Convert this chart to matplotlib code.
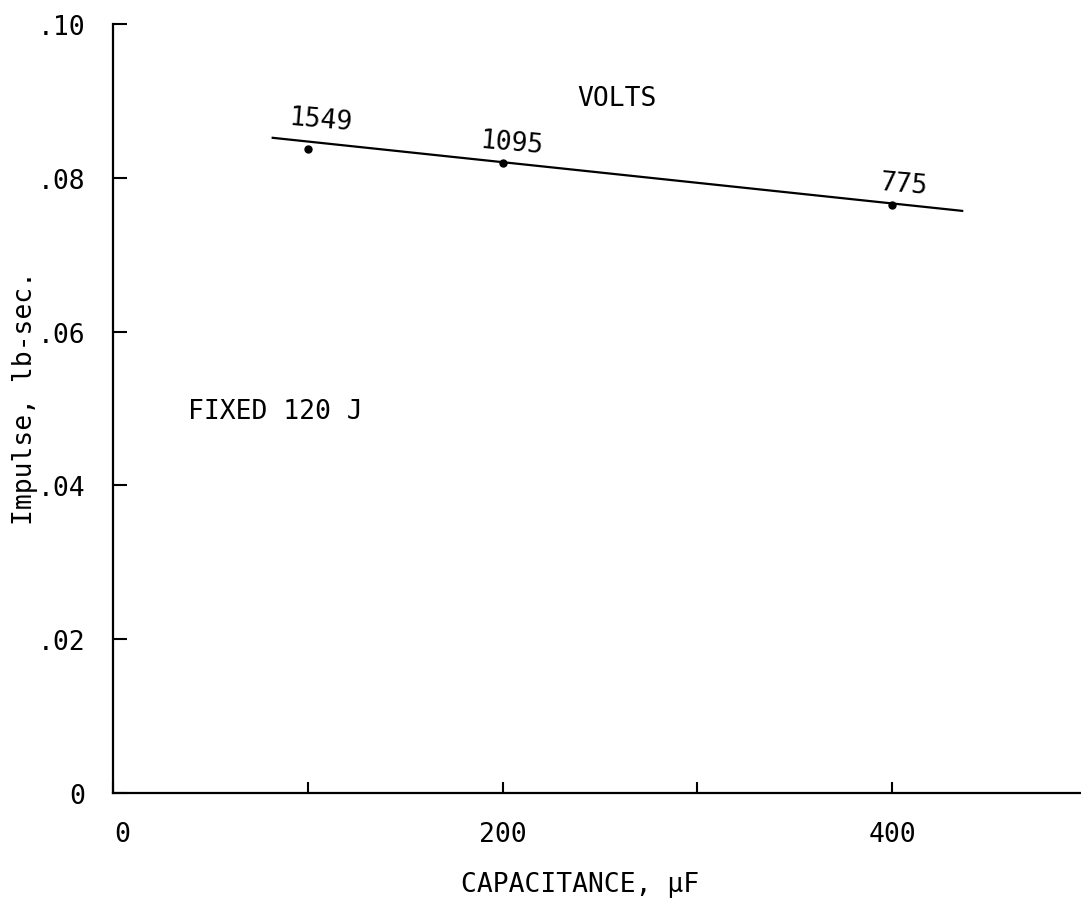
import matplotlib
matplotlib.use('Agg')
import matplotlib.pyplot as plt
import matplotlib.transforms as mtransforms

# data (fixed 120 J)
capacitance = [100, 200, 400]
impulse = [0.0838, 0.0819, 0.0764]
volts = ['1549', '1095', '775']

# hand-drawn fit line endpoints
fit_x = [82, 436]
fit_y = [0.0852, 0.0757]

x_ticks = [0, 100, 200, 300, 400]
x_tick_labels = ['0', '', '200', '', '400']
y_ticks = [0, 0.02, 0.04, 0.06, 0.08, 0.10]
y_tick_labels = ['0', '.02', '.04', '.06', '.08', '.10']

plt.rcParams['font.family'] = ['DejaVu Sans Mono']
fs = 19

fig = plt.figure(figsize=(10.81, 9.03), dpi=100)
ax = fig.add_axes([113 / 1081, 109 / 903, 1 - 113 / 1081, (794 - 25) / 903])

ax.plot(fit_x, fit_y, color='black', lw=1.6)
ax.plot(capacitance, impulse, 'o', color='black', markersize=5)

label_pos = [(107, 0.0876), (205, 0.0846), (406, 0.0792)]
for (lx, ly), v in zip(label_pos, volts):
    ax.text(lx, ly, v, fontsize=fs, ha='center', va='center', rotation=-5)

ax.text(259, 0.0904, 'VOLTS', fontsize=fs, ha='center', va='center')
ax.text(38.5, 0.0497, 'FIXED 120 J', fontsize=fs, ha='left', va='center')

ax.set_xlim(0, 497)
ax.set_ylim(0, 0.10)
ax.set_xticks(x_ticks)
ax.set_xticklabels(x_tick_labels, fontsize=fs)
ax.set_yticks(y_ticks)
ax.set_yticklabels(y_tick_labels, fontsize=fs)
ax.tick_params(direction='in', width=1.5)
ax.tick_params(axis='x', length=8, pad=20)
ax.tick_params(axis='y', length=10, pad=20)

# the "0" under the origin sits a little to the right in the original
lbl0 = ax.get_xticklabels()[0]
lbl0.set_transform(lbl0.get_transform() +
                   mtransforms.ScaledTranslation(0.09, 0, fig.dpi_scale_trans))

for side in ['top', 'right']:
    ax.spines[side].set_visible(False)
for side in ['left', 'bottom']:
    ax.spines[side].set_linewidth(1.6)

fig.text(25 / 1081, 1 - 398 / 903, 'Impulse, lb-sec.', fontsize=fs,
         rotation=90, ha='center', va='center')
fig.text(580 / 1081, 1 - 885 / 903, 'CAPACITANCE, \u03bcF', fontsize=fs,
         ha='center', va='center')

fig.savefig('out.png', dpi=100)
